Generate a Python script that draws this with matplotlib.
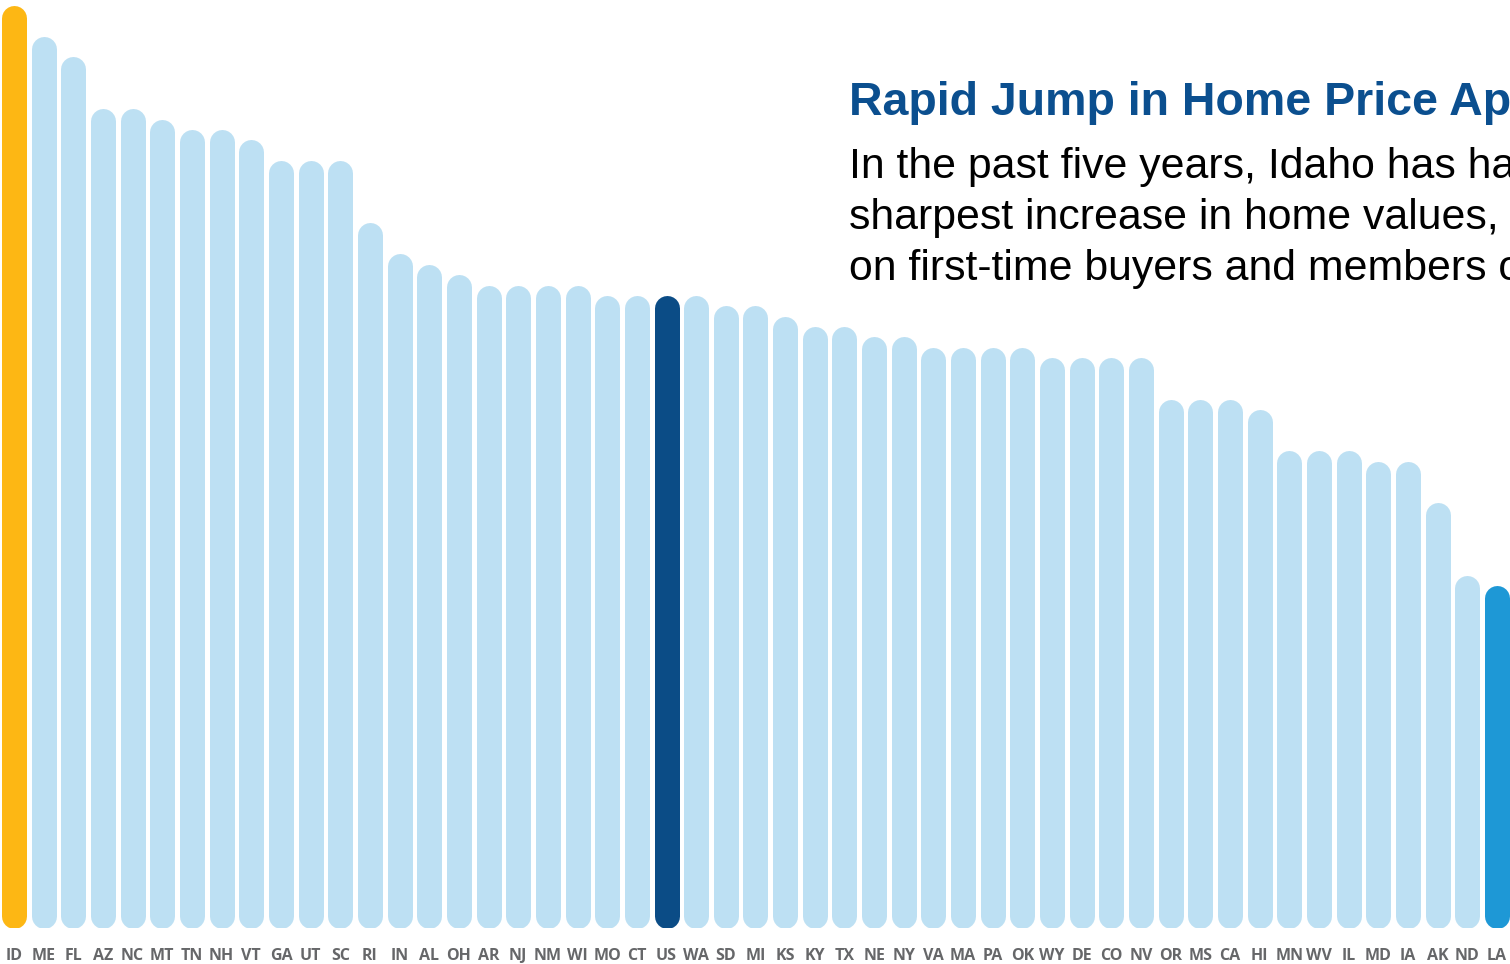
import matplotlib.pyplot as plt

# Appréciation du prix des logements sur cinq ans, par État
etats = ["ID", "ME", "FL", "AZ", "NC", "MT", "TN", "NH", "VT", "GA", "UT", "SC",
         "RI", "IN", "AL", "OH", "AR", "NJ", "NM", "WI", "MO", "CT", "US", "WA",
         "SD", "MI", "KS", "KY", "TX", "NE", "NY", "VA", "MA", "PA", "OK", "WY",
         "DE", "CO", "NV", "OR", "MS", "CA", "HI", "MN", "WV", "IL", "MD", "IA",
         "AK", "ND", "LA"]
valeurs = [89, 86, 84, 79, 79, 78, 77, 77, 76, 74, 74, 74,
           68, 65, 64, 63, 62, 62, 62, 62, 61, 61, 61, 61,
           60, 60, 59, 58, 58, 57, 57, 56, 56, 56, 56, 55,
           55, 55, 55, 51, 51, 51, 50, 46, 46, 46, 45, 45,
           41, 34, 33]

couleurs_speciales = {"ID": "#FDB714", "US": "#0B4C86", "LA": "#1E98D6"}
couleur_base = "#BDE0F3"

titre = "Rapid Jump in Home Price Appreciation"
texte = ["In the past five years, Idaho has had the nation's",
         "sharpest increase in home values, putting pressure",
         "on first-time buyers and members of the workforce."]

W, H = 1510, 964
fig = plt.figure(figsize=(W / 100, H / 100), dpi=100)
ax = fig.add_axes([0, 36 / H, 1, 1 - 36 / H])

pas = 29.66
ax.set_xlim(-14 / pas, (W - 14) / pas)
ax.set_ylim(0, 928 / 10.37)

# barres = traits épais à bouts ronds ; on retire le rayon du bout en unités de données
fig.canvas.draw()
(x0, y0), (x1, y1) = ax.transData.transform([(0, 0), (1, 1)])
px_par_y = y1 - y0
largeur_px = 25
rayon = (largeur_px / 2) / px_par_y

for i, (e, v) in enumerate(zip(etats, valeurs)):
    ax.plot([i, i], [rayon, v - rayon], color=couleurs_speciales.get(e, couleur_base),
            linewidth=largeur_px * 72 / 100, solid_capstyle="round")

ax.set_xticks(range(len(etats)))
ax.set_xticklabels(etats, fontsize=11.5, family="Open Sans", fontweight="bold",
                   color="#666769")
ax.tick_params(axis="x", length=0, pad=14.5)
ax.set_yticks([])
for s in ax.spines.values():
    s.set_visible(False)

fig.text(849 / W, 1 - 115 / H, titre, family="Liberation Sans", fontweight="bold",
         fontsize=33.5, color="#0B4F8F", va="baseline")
for k, ligne in enumerate(texte):
    fig.text(849 / W, 1 - (178 + 51 * k) / H, ligne, family="Liberation Sans",
             fontsize=30.8, color="black", va="baseline")

fig.savefig("out.png", dpi=100)
